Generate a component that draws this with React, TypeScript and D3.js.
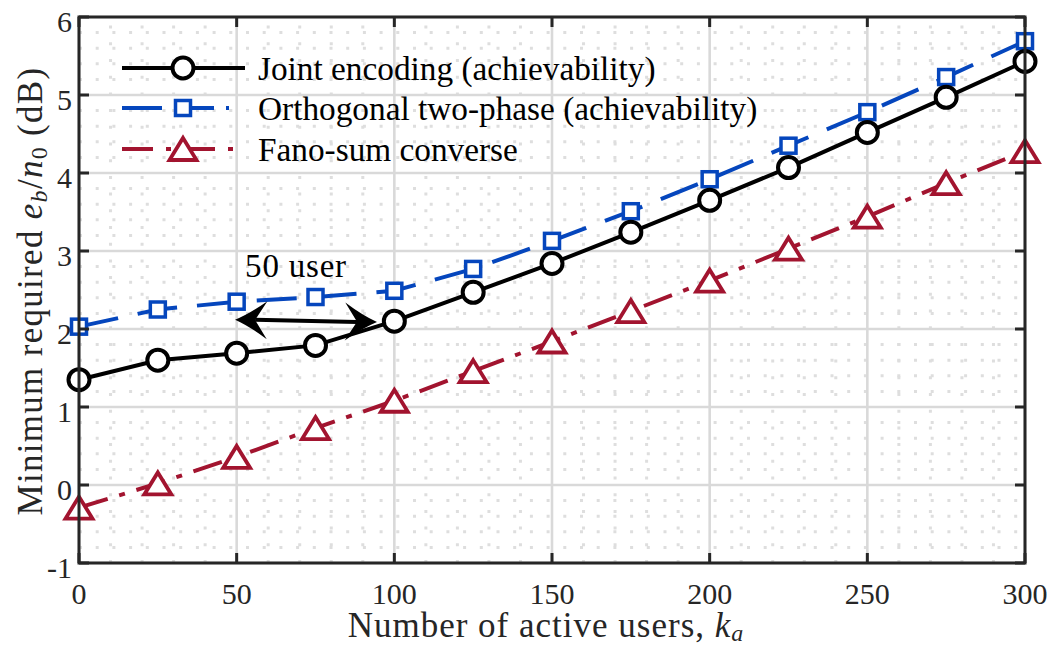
import React from 'react';
import * as d3 from 'd3';

// number of active users at each simulated point
const users = [0, 25, 50, 75, 100, 125, 150, 175, 200, 225, 250, 275, 300];
// minimum required eb/n0 in dB
const jointEncoding = [1.35, 1.6, 1.69, 1.79, 2.1, 2.47, 2.84, 3.24, 3.65, 4.07, 4.52, 4.97, 5.43];
const orthogonalTwoPhase = [2.03, 2.25, 2.35, 2.41, 2.49, 2.77, 3.13, 3.51, 3.92, 4.35, 4.78, 5.23, 5.69];
const fanoSum = [-0.29, 0.02, 0.36, 0.73, 1.08, 1.46, 1.84, 2.23, 2.62, 3.03, 3.44, 3.87, 4.28];

const xTicks = [0, 50, 100, 150, 200, 250, 300];
const yTicks = [-1, 0, 1, 2, 3, 4, 5, 6];
const seriesNames = [
  'Joint encoding (achievability)',
  'Orthogonal two-phase (achievability)',
  'Fano-sum converse',
];
// double arrow: [x, y] of both ends
const arrowStart = [49.5, 2.12];
const arrowEnd = [94.5, 2.09];

const W = 1050;
const H = 645;
const left = 79;
const right = 1025;
const top = 17;
const bottom = 563;

const BLUE = '#0546bd';
const RED = '#a2142f';
const FONT = "'Liberation Serif', Tinos, 'DejaVu Serif', serif";
const serif = { fontFamily: FONT };

const x = d3.scaleLinear().domain([0, 300]).range([left, right]);
const y = d3.scaleLinear().domain([-1, 6]).range([bottom, top]);

const Circle = ({ cx, cy }: { cx: number; cy: number }) => (
  <circle cx={cx} cy={cy} r={10.5} fill="#fff" stroke="#000" strokeWidth={4} />
);
const Square = ({ cx, cy }: { cx: number; cy: number }) => (
  <rect x={cx - 7.5} y={cy - 7.5} width={15} height={15} fill="#fff" stroke={BLUE} strokeWidth={3.5} />
);
const Triangle = ({ cx, cy }: { cx: number; cy: number }) => (
  <path
    d={`M${cx},${cy - 11} L${cx + 13.5},${cy + 11} L${cx - 13.5},${cy + 11} Z`}
    fill="#fff"
    stroke={RED}
    strokeWidth={3.8}
    strokeLinejoin="miter"
  />
);

function arrowHead(tip: number[], from: number[]) {
  const dx = tip[0] - from[0];
  const dy = tip[1] - from[1];
  const len = Math.hypot(dx, dy);
  const ux = dx / len;
  const uy = dy / len;
  const nx = -uy;
  const ny = ux;
  const L = 32;
  const HW = 19;
  const N = 20;
  const b1 = [tip[0] - ux * L + nx * HW, tip[1] - uy * L + ny * HW];
  const b2 = [tip[0] - ux * L - nx * HW, tip[1] - uy * L - ny * HW];
  const notch = [tip[0] - ux * N, tip[1] - uy * N];
  const c1 = [tip[0] - ux * 14 + nx * 6, tip[1] - uy * 14 + ny * 6];
  const c2 = [tip[0] - ux * 14 - nx * 6, tip[1] - uy * 14 - ny * 6];
  return `M${tip[0]},${tip[1]} Q${c1[0]},${c1[1]} ${b1[0]},${b1[1]} L${notch[0]},${notch[1]} L${b2[0]},${b2[1]} Q${c2[0]},${c2[1]} ${tip[0]},${tip[1]} Z`;
}

export default function App() {
  const line = d3
    .line<number>()
    .x((_, i) => x(users[i]))
    .y((d) => y(d));

  const minorX = d3.range(10, 300, 10).filter((v) => v % 50 !== 0);
  const minorY = d3.range(-0.8, 6, 0.2).filter((v) => Math.abs(v - Math.round(v)) > 0.01);

  const a0 = [x(arrowStart[0]), y(arrowStart[1])];
  const a1 = [x(arrowEnd[0]), y(arrowEnd[1])];

  const legendRows = [68, 108, 149];

  return (
    <svg
      width={W}
      height={H}
      style={{ position: 'absolute', left: 0, top: 0, background: '#fff' }}
    >
      {/* minor grid, dotted */}
      <g stroke="#dedede" strokeWidth={3} strokeDasharray="3 13.7">
        {minorX.map((v) => (
          <line key={`mx${v}`} x1={x(v)} x2={x(v)} y1={bottom} y2={top} />
        ))}
        {minorY.map((v) => (
          <line key={`my${v}`} x1={left} x2={right} y1={y(v)} y2={y(v)} />
        ))}
      </g>
      {/* major grid */}
      <g stroke="#d9d9d9" strokeWidth={2.6}>
        {xTicks.map((v) => (
          <line key={`gx${v}`} x1={x(v)} x2={x(v)} y1={bottom} y2={top} />
        ))}
        {yTicks.map((v) => (
          <line key={`gy${v}`} x1={left} x2={right} y1={y(v)} y2={y(v)} />
        ))}
      </g>

      {/* series lines */}
      <path d={line(fanoSum) ?? ''} fill="none" stroke={RED} strokeWidth={4} strokeDasharray="30 12 6 12" />
      <path d={line(orthogonalTwoPhase) ?? ''} fill="none" stroke={BLUE} strokeWidth={4} strokeDasharray="40 20" />
      <path d={line(jointEncoding) ?? ''} fill="none" stroke="#000" strokeWidth={4} />

      {fanoSum.map((v, i) => (
        <Triangle key={`t${i}`} cx={x(users[i])} cy={y(v)} />
      ))}
      {orthogonalTwoPhase.map((v, i) => (
        <Square key={`s${i}`} cx={x(users[i])} cy={y(v)} />
      ))}
      {jointEncoding.map((v, i) => (
        <Circle key={`c${i}`} cx={x(users[i])} cy={y(v)} />
      ))}

      {/* 50 user annotation */}
      <line x1={a0[0] + 20} y1={a0[1]} x2={a1[0] - 20} y2={a1[1]} stroke="#000" strokeWidth={4} />
      <path d={arrowHead(a0, a1)} fill="#000" />
      <path d={arrowHead(a1, a0)} fill="#000" />
      <text x={296} y={277} fontSize={33} letterSpacing={0.8} textAnchor="middle" style={serif}>
        50 user
      </text>

      {/* legend */}
      <g>
        <line x1={122} x2={245} y1={legendRows[0]} y2={legendRows[0]} stroke="#000" strokeWidth={4} />
        <Circle cx={183} cy={legendRows[0]} />
        <line x1={122} x2={229} y1={legendRows[1]} y2={legendRows[1]} stroke={BLUE} strokeWidth={4} strokeDasharray="40 12" />
        <Square cx={183} cy={legendRows[1]} />
        <line x1={122} x2={240} y1={legendRows[2]} y2={legendRows[2]} stroke={RED} strokeWidth={4} strokeDasharray="31 13 5 13" />
        <Triangle cx={183} cy={legendRows[2]} />
        {seriesNames.map((n, i) => (
          <text key={n} x={258} y={legendRows[i] + 12} fontSize={33.3} style={serif}>
            {n}
          </text>
        ))}
      </g>

      {/* axes box and ticks */}
      <g stroke="#262626" strokeWidth={3}>
        {xTicks.map((v) => (
          <g key={`tx${v}`}>
            <line x1={x(v)} x2={x(v)} y1={bottom} y2={bottom - 10} />
            <line x1={x(v)} x2={x(v)} y1={top} y2={top + 10} />
          </g>
        ))}
        {yTicks.map((v) => (
          <g key={`ty${v}`}>
            <line x1={left} x2={left + 10} y1={y(v)} y2={y(v)} />
            <line x1={right} x2={right - 10} y1={y(v)} y2={y(v)} />
          </g>
        ))}
        <rect x={left} y={top} width={right - left} height={bottom - top} fill="none" />
      </g>

      <g fontSize={30} fill="#262626">
        {xTicks.map((v) => (
          <text key={`lx${v}`} x={x(v)} y={604} textAnchor="middle" style={serif}>
            {v}
          </text>
        ))}
        {yTicks.map((v) => (
          <text key={`ly${v}`} x={72} y={y(v) + 15} textAnchor="end" style={serif}>
            {v < 0 ? `-${Math.abs(v)}` : v}
          </text>
        ))}
      </g>

      <text x={546} y={637} fontSize={35} letterSpacing={1} textAnchor="middle" fill="#262626" style={serif}>
        Number of active users, <tspan fontStyle="italic">k</tspan>
        <tspan fontStyle="italic" fontSize={24} dy={4}>a</tspan>
      </text>
      <text
        transform={`translate(42, 291) rotate(-90)`}
        fontSize={35}
        letterSpacing={1.3}
        textAnchor="middle"
        fill="#262626"
        style={serif}
      >
        Minimum required <tspan fontStyle="italic">e</tspan>
        <tspan fontStyle="italic" fontSize={24} dy={5}>b</tspan>
        <tspan dy={-5}>/</tspan>
        <tspan fontStyle="italic">n</tspan>
        <tspan fontSize={24} dy={5}>0</tspan>
        <tspan dy={-5}> (dB)</tspan>
      </text>
    </svg>
  );
}
